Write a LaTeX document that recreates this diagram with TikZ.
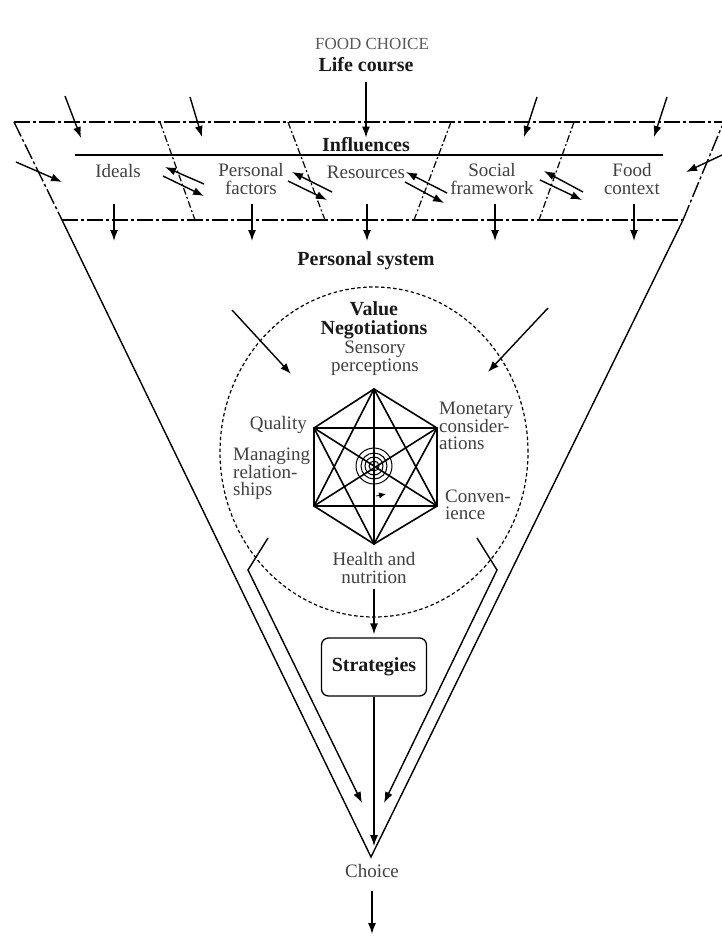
\documentclass[tikz,border=0pt]{standalone}
\usepackage{fontspec}
\setmainfont{Liberation Serif}
\usetikzlibrary{arrows.meta}
\begin{document}
\begin{tikzpicture}[x=1pt,y=-1pt,
  every node/.style={inner sep=0pt},
  lbl/.style={font=\fontsize{19}{17.5}\selectfont, text=black!75, align=center},
  blbl/.style={font=\fontsize{20}{19}\selectfont\bfseries, text=black!90, align=center},
  arr/.style={-{Latex[length=11pt,width=8pt]}, line width=1.4pt},
  smallarr/.style={-{Latex[length=7pt,width=6pt]}, line width=0.8pt},
  dashdot/.style={line width=1.4pt, dash pattern=on 16pt off 3pt on 3pt off 3pt},
  divider/.style={line width=1.2pt, dash pattern=on 7pt off 2.5pt on 2pt off 2.5pt},
  edge/.style={line width=1.4pt},
  hexl/.style={line width=1.6pt},
  ring/.style={line width=1pt},
  circdash/.style={line width=1.2pt, dash pattern=on 3.5pt off 2.5pt},
  box/.style={draw, line width=1.3pt, rounded corners=7pt, minimum width=105pt, minimum height=58pt}
]
\useasboundingbox (0,0) rectangle (722,937);

% ---------- outer frame ----------
\coordinate (TL) at (14,122);
\coordinate (TR) at (722,122);
\coordinate (BL) at (62,220);
\coordinate (BR) at (683,220);
\coordinate (TRe) at (722,126);
\coordinate (apex) at (371,857);
\draw[dashdot] (TL) -- (TR);
\draw[dashdot] (BL) -- (BR);
\draw[dashdot] (TL) -- (BL);
\draw[dashdot] (BR) -- (TRe);
\draw[edge] (BL) -- (apex) -- (BR);

% dividers
\coordinate (d1a) at (160,122); \coordinate (d1b) at (195,220);
\coordinate (d2a) at (288,122); \coordinate (d2b) at (325,220);
\coordinate (d3a) at (451,122); \coordinate (d3b) at (414,220);
\coordinate (d4a) at (574,122); \coordinate (d4b) at (539,220);
\draw[divider] (d1a) -- (d1b);
\draw[divider] (d2a) -- (d2b);
\draw[divider] (d3a) -- (d3b);
\draw[divider] (d4a) -- (d4b);

% influences line
\coordinate (iL) at (75,155);
\coordinate (iR) at (663,155);
\draw[line width=1.5pt] (iL) -- (iR);

% ---------- texts ----------
\node[lbl, font=\fontsize{17}{17}\selectfont, text=black!65] (title) at (372,44) {FOOD CHOICE};
\node[blbl] (life) at (366,65) {Life course};
\node[blbl] (infl) at (366,145) {Influences};
\node[lbl] (ideals) at (118,171) {Ideals};
\node[lbl] (pers) at (251,179) {Personal\\factors};
\node[lbl] (res) at (366,172) {Resources};
\node[lbl] (soc) at (492,179) {Social\\framework};
\node[lbl] (food) at (632,179) {Food\\context};
\node[blbl] (psys) at (366,261) {Personal system};
\node[blbl] (valneg) at (374,320) {Value\\Negotiations};
\node[lbl] (sens) at (375,358) {Sensory\\perceptions};
\node[lbl, anchor=east] (qual) at (307,425) {Quality};
\node[lbl, anchor=west, align=left] (manag) at (233,474) {Managing\\relation-\\ships};
\node[lbl, anchor=west, align=left] (monet) at (439,426) {Monetary\\consider-\\ations};
\node[lbl, anchor=west, align=left] (conv) at (445,505) {Conven-\\ience};
\node[lbl] (health) at (374,568) {Health and\\nutrition};
\node[blbl, box] (strat) at (374,667) {Strategies};
\node[lbl] (choice) at (372,871) {Choice};

% ---------- arrows into band ----------
\draw[arr, shorten <=10pt] (life.south) -- (infl.north);
\coordinate (a1s) at (65,96);  \coordinate (a1e) at (81,138);
\coordinate (a2s) at (190,97); \coordinate (a2e) at (202,137);
\coordinate (a4s) at (537,97); \coordinate (a4e) at (524,137);
\coordinate (a5s) at (667,97); \coordinate (a5e) at (654,137);
\coordinate (als) at (16,162); \coordinate (ale) at (62,182);
\coordinate (ars) at (722,155); \coordinate (are) at (686,172);
\draw[arr] (a1s) -- (a1e);
\draw[arr] (a2s) -- (a2e);
\draw[arr] (a4s) -- (a4e);
\draw[arr] (a5s) -- (a5e);
\draw[arr] (als) -- (ale);
\draw[arr] (ars) -- (are);

% pair arrows
\coordinate (p1us) at (204,184); \coordinate (p1ue) at (165,167);
\coordinate (p1ls) at (163,176); \coordinate (p1le) at (204,196);
\coordinate (p2us) at (332,192); \coordinate (p2ue) at (292,172);
\coordinate (p2ls) at (288,181); \coordinate (p2le) at (327,200);
\coordinate (p3us) at (447,193); \coordinate (p3ue) at (406,172);
\coordinate (p3ls) at (405,182); \coordinate (p3le) at (444,203);
\coordinate (p4us) at (583,192); \coordinate (p4ue) at (544,171);
\coordinate (p4ls) at (540,180); \coordinate (p4le) at (582,200);
\foreach \s/\e in {p1us/p1ue,p1ls/p1le,p2us/p2ue,p2ls/p2le,p3us/p3ue,p3ls/p3le,p4us/p4ue,p4ls/p4le}
  \draw[arr] (\s) -- (\e);

% down arrows from band
\foreach \x [count=\i] in {114,252,367,495,634}{
  \coordinate (b\i s) at (\x,204);
  \coordinate (b\i e) at (\x,241);
  \draw[arr] (b\i s) -- (b\i e);
}

% ---------- value negotiations circle ----------
\draw[circdash] (374,452) ellipse [x radius=154pt, y radius=165pt];
\coordinate (cls) at (232,310); \coordinate (cle) at (291,374);
\coordinate (crs) at (548,308); \coordinate (cre) at (488,372);
\draw[arr] (cls) -- (cle);
\draw[arr] (crs) -- (cre);

% hexagon (complete graph)
\coordinate (h1) at (374,389);
\coordinate (h2) at (437,428);
\coordinate (h3) at (437,506);
\coordinate (h4) at (374,544);
\coordinate (h5) at (314,506);
\coordinate (h6) at (314,428);
\foreach \a/\b in {h1/h2,h2/h3,h3/h4,h4/h5,h5/h6,h6/h1,h1/h3,h1/h4,h1/h5,h2/h4,h2/h5,h2/h6,h3/h5,h3/h6,h4/h6}
  \draw[hexl, line cap=round] (\a) -- (\b);

% spiral
\coordinate (sp) at (374,466);
\foreach \r in {5,9,13,18} \draw[ring] (sp) circle [radius=\r pt];
\coordinate (sps) at (376,496);
\coordinate (spe) at (386,494);
\draw[smallarr] (sps) -- (spe);

% ---------- lower part ----------
\draw[arr, shorten <=5pt, shorten >=3pt] (health.south) -- (strat.north);
\draw[arr, shorten >=18pt] (strat.south) -- (strat.south |- choice.north);
\coordinate (out) at (372,934);
\draw[arr, shorten <=13pt] (choice.south) -- (out);

\coordinate (L1) at (268,538); \coordinate (L2) at (248,570); \coordinate (L3) at (362,803);
\coordinate (R1) at (477,538); \coordinate (R2) at (497,570); \coordinate (R3) at (384,803);
\draw[arr] (L1) -- (L2) -- (L3);
\draw[arr] (R1) -- (R2) -- (R3);
\end{tikzpicture}
\end{document}
